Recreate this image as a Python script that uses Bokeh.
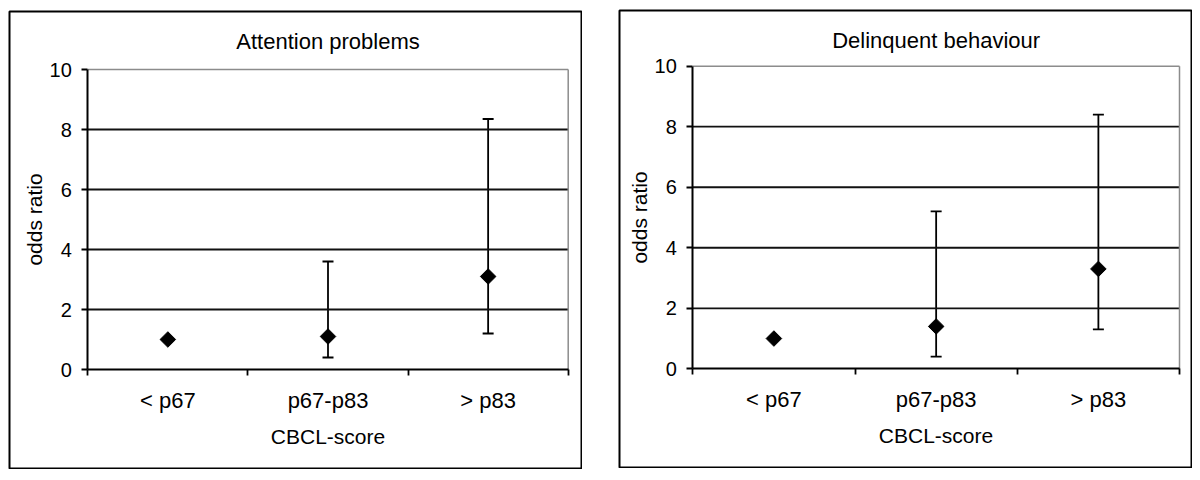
import math
from bokeh.plotting import figure
from bokeh.models import (ColumnDataSource, Whisker, TeeHead, FixedTicker, Range1d,
                          Spacer, Label)
from bokeh.layouts import row, column
from bokeh.embed import file_html
from bokeh.resources import INLINE

# ---- data ----
categories = ["< p67", "p67-p83", "> p83"]

attention_or = [1.0, 1.1, 3.1]
attention_lower = [math.nan, 0.4, 1.2]
attention_upper = [math.nan, 3.6, 8.35]

delinquent_or = [1.0, 1.4, 3.3]
delinquent_lower = [math.nan, 0.4, 1.3]
delinquent_upper = [math.nan, 5.2, 8.4]

y_ticks = [0, 2, 4, 6, 8, 10]
FONT = "Liberation Sans"


def make_panel(title, or_vals, lower, upper, width, height,
               pad_left, plot_w, pad_top, plot_h, title_off):
    """The plot frame is the whole outlined panel; axes sit inside it at fixed locations."""
    n = len(categories)
    ymax = y_ticks[-1]
    frame_w, frame_h = width - 2, height - 2
    ux = plot_w / n          # px per category
    uy = plot_h / ymax       # px per y unit
    x_rng = Range1d(-pad_left / ux, n + (frame_w - pad_left - plot_w) / ux)
    y_rng = Range1d(-(frame_h - pad_top - plot_h) / uy, ymax + pad_top / uy)

    p = figure(width=width, height=height, x_range=x_rng, y_range=y_rng,
               output_backend="svg", toolbar_location=None,
               min_border_left=1, min_border_right=1,
               min_border_top=1, min_border_bottom=1)
    p.background_fill_color = "white"
    p.border_fill_color = "white"
    p.outline_line_color = "black"
    p.outline_line_width = 2
    p.xgrid.visible = False
    p.ygrid.visible = False

    xs = [i + 0.5 for i in range(n)]

    # horizontal grid lines (black) and the grey top / right plot-area border
    inner = [t for t in y_ticks if 0 < t < ymax]
    p.segment(x0=[0] * len(inner), x1=[n] * len(inner), y0=inner, y1=inner,
              line_color="#111111", line_width=1.8)
    p.segment(x0=[0, n], x1=[n, n], y0=[ymax, 0], y1=[ymax, ymax],
              line_color="#8c8c8c", line_width=1.5)

    # y axis
    ya = p.yaxis[0]
    ya.fixed_location = 0
    ya.bounds = (0, ymax)
    ya.ticker = FixedTicker(ticks=y_ticks)
    ya.axis_label = "odds ratio"
    ya.axis_label_text_font = FONT
    ya.axis_label_text_font_size = "21px"
    ya.axis_label_text_font_style = "normal"
    ya.axis_label_text_color = "black"
    ya.axis_label_standoff = 0
    ya.major_label_text_font = FONT
    ya.major_label_text_font_size = "20px"
    ya.major_label_text_color = "black"
    ya.major_label_standoff = 10
    ya.axis_line_color = "black"
    ya.axis_line_width = 2
    ya.major_tick_line_color = "black"
    ya.major_tick_line_width = 1.8
    ya.major_tick_out = 6
    ya.major_tick_in = 0
    ya.minor_tick_line_color = None

    # x axis
    xa = p.xaxis[0]
    xa.fixed_location = 0
    xa.bounds = (0, n)
    xa.ticker = FixedTicker(ticks=xs, minor_ticks=list(range(n + 1)))
    xa.major_label_overrides = {x: c for x, c in zip(xs, categories)}
    xa.axis_label = "CBCL-score"
    xa.axis_label_text_font = FONT
    xa.axis_label_text_font_size = "21px"
    xa.axis_label_text_font_style = "normal"
    xa.axis_label_text_color = "black"
    xa.axis_label_standoff = 9
    xa.major_label_text_font = FONT
    xa.major_label_text_font_size = "22px"
    xa.major_label_text_color = "black"
    xa.major_label_standoff = 12
    xa.axis_line_color = "black"
    xa.axis_line_width = 2
    xa.major_tick_line_color = None
    xa.major_tick_out = 0
    xa.major_tick_in = 0
    xa.minor_tick_line_color = "black"
    xa.minor_tick_line_width = 1.8
    xa.minor_tick_out = 6
    xa.minor_tick_in = 0

    # title
    p.add_layout(Label(x=n / 2, y=ymax, y_offset=title_off, text=title,
                       text_align="center", text_baseline="alphabetic",
                       text_font=FONT, text_font_size="22px", text_color="black"))

    # error bars (only where a CI exists)
    keep = [i for i in range(n) if not math.isnan(lower[i])]
    err = ColumnDataSource(dict(x=[xs[i] for i in keep],
                                lower=[lower[i] for i in keep],
                                upper=[upper[i] for i in keep]))
    p.add_layout(Whisker(source=err, base="x", lower="lower", upper="upper",
                         line_color="black", line_width=1.8,
                         upper_head=TeeHead(size=11, line_color="black", line_width=1.8),
                         lower_head=TeeHead(size=11, line_color="black", line_width=1.8)))

    pts = ColumnDataSource(dict(x=xs, y=or_vals))
    p.scatter("x", "y", source=pts, marker="square", angle=math.pi / 4,
              size=11, fill_color="black", line_color="black")
    return p


p1 = make_panel("Attention problems", attention_or, attention_lower, attention_upper,
                width=574, height=459, pad_left=78.3, plot_w=480.4,
                pad_top=58, plot_h=300, title_off=28)
p2 = make_panel("Delinquent behaviour", delinquent_or, delinquent_lower, delinquent_upper,
                width=574, height=459, pad_left=73.3, plot_w=486.7,
                pad_top=55.7, plot_h=302.6, title_off=26)

layout = row(Spacer(width=8), column(Spacer(height=10), p1),
             Spacer(width=36), column(Spacer(height=9), p2))

open("out.html", "w").write(file_html(layout, INLINE))
